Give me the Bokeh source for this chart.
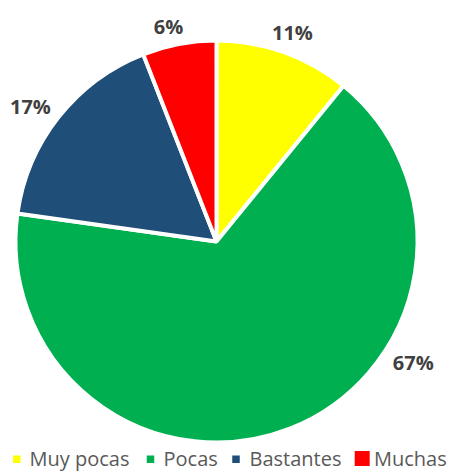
import math
from bokeh.plotting import figure
from bokeh.models import Range1d, ColumnDataSource
from bokeh.core.properties import value
from bokeh.embed import file_html
from bokeh.resources import INLINE

# ---- data ----
categories = ["Muy pocas", "Pocas", "Bastantes", "Muchas"]
percent = [11, 67, 17, 6]
labels = ["11%", "67%", "17%", "6%"]
colors = ["#FFFF00", "#00B050", "#1F4E79", "#FF0000"]

# ---- layout / style ----
W, H = 451, 471
cx, cy, R = 216, 230, 201
label_angle_deg = [20.0, 121.6, -54.0, -12.6]   # clockwise from 12 o'clock
label_dist = [222, 231, 230, 220]
legend_marker_x = [16.3, 150, 235.5, 361.7]
legend_marker_size = [7.5, 7.5, 7.5, 15]
legend_marker_y = [12.3, 12.3, 12.3, 13.1]
legend_text_x = [29, 163, 249, 373.5]
legend_text_y = 12.6

p = figure(width=W, height=H, output_backend="svg", toolbar_location=None,
           x_range=Range1d(0, W), y_range=Range1d(0, H), min_border=0)
p.axis.visible = False
p.grid.visible = False
p.outline_line_color = None
p.background_fill_color = "white"
p.border_fill_color = "white"

total = float(sum(percent))
starts, ends = [], []
cum = 0.0
for v in percent:
    starts.append(math.pi / 2 - cum / total * 2 * math.pi)
    cum += v
    ends.append(math.pi / 2 - cum / total * 2 * math.pi)

src = ColumnDataSource(dict(cat=categories, start=starts, end=ends, color=colors))
p.wedge(x=cx, y=cy, radius=R, radius_units="screen", start_angle="start", end_angle="end",
        direction="clock", fill_color="color", line_color="white", line_width=4, source=src)

# data labels
lx = [cx + d * math.sin(math.radians(a)) for a, d in zip(label_angle_deg, label_dist)]
ly = [cy + d * math.cos(math.radians(a)) for a, d in zip(label_angle_deg, label_dist)]
lsrc = ColumnDataSource(dict(x=lx, y=ly, t=labels))
p.text(x="x", y="y", text="t", source=lsrc, text_align="center", text_baseline="middle",
       text_font=value("Open Sans"), text_font_style="bold", text_font_size="20px",
       text_color="#404040")

# legend
msrc = ColumnDataSource(dict(x=legend_marker_x, y=legend_marker_y, s=legend_marker_size, c=colors))
p.scatter(x="x", y="y", size="s", marker="square", fill_color="c", line_color=None, source=msrc)
tsrc = ColumnDataSource(dict(x=legend_text_x, y=[legend_text_y] * 4, t=categories))
p.text(x="x", y="y", text="t", source=tsrc, text_align="left", text_baseline="middle",
       text_font=value("Open Sans"), text_font_size="20px", text_color="#595959")

open("out.html", "w").write(file_html(p, INLINE))
